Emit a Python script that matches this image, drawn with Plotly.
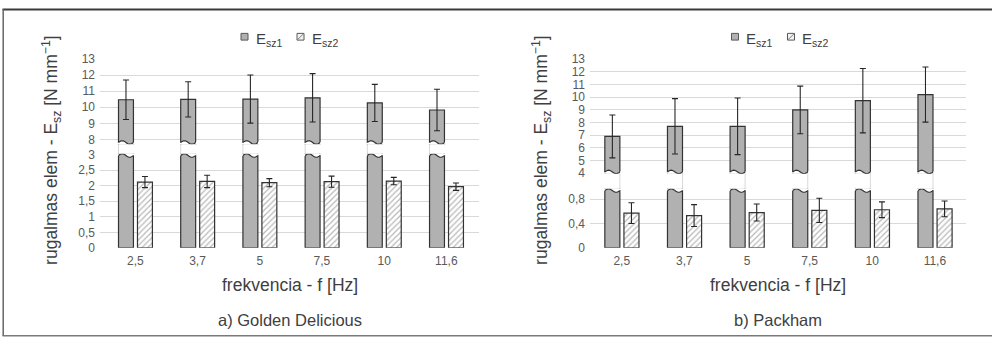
import math
import plotly.graph_objects as go

# ---------------- data ----------------
freq = ["2,5", "3,7", "5", "7,5", "10", "11,6"]

a_esz1 = [10.47, 10.49, 10.51, 10.59, 10.27, 9.83]
a_esz1_err = [1.23, 1.10, 1.50, 1.51, 1.16, 1.29]
a_esz2 = [2.12, 2.14, 2.10, 2.13, 2.15, 1.97]
a_esz2_err = [0.18, 0.20, 0.13, 0.18, 0.12, 0.12]

b_esz1 = [6.90, 7.70, 7.70, 8.99, 9.72, 10.20]
b_esz1_err = [1.69, 2.18, 2.23, 1.88, 2.54, 2.17]
b_esz2 = [0.57, 0.53, 0.58, 0.615, 0.626, 0.64]
b_esz2_err = [0.17, 0.18, 0.14, 0.20, 0.13, 0.13]

series_names = ["E<sub>sz1</sub>", "E<sub>sz2</sub>"]
y_title = "rugalmas elem - E<sub>sz</sub> [N mm<sup>−1</sup>]"
x_title = "frekvencia - f [Hz]"
captions = ["a) Golden Delicious", "b) Packham"]

# ---------------- style ----------------
W, H = 992, 345
FONT = "Liberation Sans, Arial, sans-serif"
C1 = "#b1b1b1"
OUT = "#333333"
GRID = "#d9d9d9"
TICKC = "#595959"
TITLEC = "#404040"
ERRC = "#262626"
BW = 0.24
OFF1 = -0.27
OFF2 = 0.035


def px_x(p):
    return p / W


def px_y(p):
    return 1 - p / H


panels = [
    dict(x="x", ylo="y", yhi="y2", esz1=a_esz1, e1=a_esz1_err, esz2=a_esz2, e2=a_esz2_err,
         xdom=[100, 479], xrange=[-0.5675, 5.525],
         lo_dom=[153, 251], lo_range=[0, 3.03], lo_dtick=0.5,
         hi_dom=[54, 143], hi_range=[7.7, 13.02], hi_dtick=1,
         ytitle_x=52, legend_x=244.5, gapline="left"),
    dict(x="x2", ylo="y3", yhi="y4", esz1=b_esz1, e1=b_esz1_err, esz2=b_esz2, e2=b_esz2_err,
         xdom=[590, 966], xrange=[-0.507, 5.497],
         lo_dom=[189.5, 251], lo_range=[0, 0.97], lo_dtick=0.4,
         hi_dom=[54, 173.7], hi_range=[3.97, 13.02], hi_dtick=1,
         ytitle_x=542, legend_x=735, gapline="right"),
]

fig = go.Figure()
shapes = []
annotations = []

bar_line = dict(color=OUT, width=1.2)
err_style = dict(type="data", visible=True, color=ERRC, thickness=1.1, width=3)

for k, p in enumerate(panels):
    # lower part of Esz1 (clipped at the top of the lower axis)
    fig.add_trace(go.Bar(x=freq, y=p["esz1"], xaxis=p["x"], yaxis=p["ylo"],
                         width=BW, offset=OFF1, marker=dict(color=C1, line=bar_line),
                         showlegend=False, name="Esz1"))
    # upper part of Esz1 with its error bars
    fig.add_trace(go.Bar(x=freq, y=p["esz1"], xaxis=p["x"], yaxis=p["yhi"],
                         width=BW, offset=OFF1, marker=dict(color=C1, line=bar_line),
                         error_y=dict(array=p["e1"], **err_style),
                         showlegend=False, name="Esz1"))
    # Esz2 (hatched)
    fig.add_trace(go.Bar(x=freq, y=p["esz2"], xaxis=p["x"], yaxis=p["ylo"],
                         width=BW, offset=OFF2,
                         marker=dict(color="white", line=bar_line,
                                     pattern=dict(shape="/", fgcolor="#6f6f6f", bgcolor="white",
                                                  size=4, solidity=0.3)),
                         error_y=dict(array=p["e2"], **err_style),
                         showlegend=False, name="Esz2"))

    # ---- axis-break decoration (wavy white strip across the Esz1 bars) ----
    lo_pxu = (p["lo_dom"][1] - p["lo_dom"][0]) / (p["lo_range"][1] - p["lo_range"][0])
    hi_pxu = (p["hi_dom"][1] - p["hi_dom"][0]) / (p["hi_range"][1] - p["hi_range"][0])
    amp_lo = 1.8 / lo_pxu
    amp_hi = 1.8 / hi_pxu
    ext = 0.03
    n = 20
    r0 = p["hi_range"][0]
    r1 = p["lo_range"][1]
    for i in range(len(freq)):
        x0 = i + OFF1
        x1 = x0 + BW
        hi_edge = []
        lo_edge = []
        for j in range(n + 1):
            t = j / n
            xx = x0 - ext + (x1 - x0 + 2 * ext) * t
            s = math.sin(2 * math.pi * (xx - x0) / (x1 - x0))
            hi_edge.append((xx, r0 + amp_hi * (1 + s)))
            lo_edge.append((xx, r1 - amp_lo * (1 - s)))
        path = "M %f,%f " % (x0 - ext, r0 - 5) + " ".join("L %f,%f" % q for q in hi_edge) + \
               " L %f,%f Z" % (x1 + ext, r0 - 5)
        shapes.append(dict(type="path", path=path, xref=p["x"], yref=p["yhi"],
                           fillcolor="white", line=dict(width=0), layer="above"))
        path = "M %f,%f " % (x0 - ext, r1 + 5) + " ".join("L %f,%f" % q for q in lo_edge) + \
               " L %f,%f Z" % (x1 + ext, r1 + 5)
        shapes.append(dict(type="path", path=path, xref=p["x"], yref=p["ylo"],
                           fillcolor="white", line=dict(width=0), layer="above"))
        hi_in = [q for q in hi_edge if x0 <= q[0] <= x1]
        lo_in = [q for q in lo_edge if x0 <= q[0] <= x1]
        path = "M %f,%f " % hi_in[0] + " ".join("L %f,%f" % q for q in hi_in[1:])
        shapes.append(dict(type="path", path=path, xref=p["x"], yref=p["yhi"],
                           line=dict(color=OUT, width=1.2), layer="above"))
        path = "M %f,%f " % lo_in[0] + " ".join("L %f,%f" % q for q in lo_in[1:])
        shapes.append(dict(type="path", path=path, xref=p["x"], yref=p["ylo"],
                           line=dict(color=OUT, width=1.2), layer="above"))
        gx = x0 if p["gapline"] == "left" else x1
        shapes.append(dict(type="line", xref=p["x"], yref="paper", x0=gx, x1=gx,
                           y0=px_y(p["lo_dom"][0]), y1=px_y(p["hi_dom"][1]),
                           line=dict(color=GRID, width=1), layer="below"))

    # ---- axes ----
    xname = "xaxis" if p["x"] == "x" else "xaxis2"
    fig.update_layout(**{xname: dict(
        domain=[px_x(p["xdom"][0]), px_x(p["xdom"][1])], range=p["xrange"],
        type="category", anchor=p["ylo"], showgrid=False, zeroline=False, showline=False,
        ticks="", ticklabelstandoff=4, tickfont=dict(size=12, color=TICKC, family=FONT),
        fixedrange=True)})
    for yname, dom, rng, dt in [(p["ylo"], p["lo_dom"], p["lo_range"], p["lo_dtick"]),
                                (p["yhi"], p["hi_dom"], p["hi_range"], p["hi_dtick"])]:
        key = "yaxis" if yname == "y" else "yaxis" + yname[1:]
        fig.update_layout(**{key: dict(
            domain=[px_y(dom[1]), px_y(dom[0])], range=rng, dtick=dt, tick0=0,
            anchor=p["x"], showgrid=True, gridcolor=GRID, gridwidth=1,
            zeroline=False, showline=False, ticks="", ticklabelstandoff=4,
            tickfont=dict(size=12, color=TICKC, family=FONT), fixedrange=True)})

    xc = (p["xdom"][0] + p["xdom"][1]) / 2
    annotations.append(dict(text=x_title, x=px_x(xc), y=px_y(290), xref="paper", yref="paper",
                            showarrow=False, xanchor="center", yanchor="middle",
                            font=dict(size=17.5, color=TITLEC, family=FONT)))
    annotations.append(dict(text=captions[k], x=px_x(xc), y=px_y(326), xref="paper", yref="paper",
                            showarrow=False, xanchor="center", yanchor="middle",
                            font=dict(size=16.5, color=TITLEC, family=FONT)))
    annotations.append(dict(text=y_title, x=px_x(p["ytitle_x"]), y=px_y(150), xref="paper",
                            yref="paper", showarrow=False, textangle=-90,
                            xanchor="center", yanchor="middle",
                            font=dict(size=17.5, color=TITLEC, family=FONT)))

    # ---- legend (drawn) ----
    lx = p["legend_x"]
    for s, dx in enumerate([0, 56]):
        cx = lx + dx
        shapes.append(dict(type="rect", xref="paper", yref="paper",
                           x0=px_x(cx - 3.5), x1=px_x(cx + 3.5), y0=px_y(34.5), y1=px_y(27.5),
                           fillcolor=C1 if s == 0 else "#f2f2f2",
                           line=dict(color="#595959", width=1)))
        if s == 1:
            shapes.append(dict(type="line", xref="paper", yref="paper",
                               x0=px_x(cx - 3), x1=px_x(cx + 3), y0=px_y(34), y1=px_y(28),
                               line=dict(color="#808080", width=1)))
        annotations.append(dict(text=series_names[s], x=px_x(cx + 9), y=px_y(34), xref="paper",
                                yref="paper", showarrow=False, xanchor="left", yanchor="middle",
                                font=dict(size=15, color=TITLEC, family=FONT)))

# outer frame: top, left and bottom edges
shapes.append(dict(type="line", xref="paper", yref="paper", x0=px_x(2.5), x1=1,
                   y0=px_y(2.6), y1=px_y(2.6), line=dict(color="#3a3a3a", width=2), layer="above"))
shapes.append(dict(type="line", xref="paper", yref="paper", x0=px_x(3.2), x1=px_x(3.2),
                   y0=px_y(2), y1=px_y(343), line=dict(color="#666666", width=1.5), layer="above"))
shapes.append(dict(type="line", xref="paper", yref="paper", x0=px_x(2.5), x1=1,
                   y0=px_y(342.6), y1=px_y(342.6), line=dict(color="#7a7a7a", width=1.5),
                   layer="above"))

fig.update_layout(width=W, height=H, margin=dict(l=0, r=0, t=0, b=0),
                  paper_bgcolor="white", plot_bgcolor="white", separators=",.",
                  showlegend=False, shapes=shapes, annotations=annotations,
                  font=dict(family=FONT))

fig.write_html(
    "out.html",
    config={"displayModeBar": False, "responsive": False},
    post_script=(
        "document.documentElement.style.margin='0';"
        "document.documentElement.style.overflow='hidden';"
        "document.body.style.margin='0';"
        "document.body.style.padding='0';"
        "document.body.style.overflow='hidden';"
    ),
)
